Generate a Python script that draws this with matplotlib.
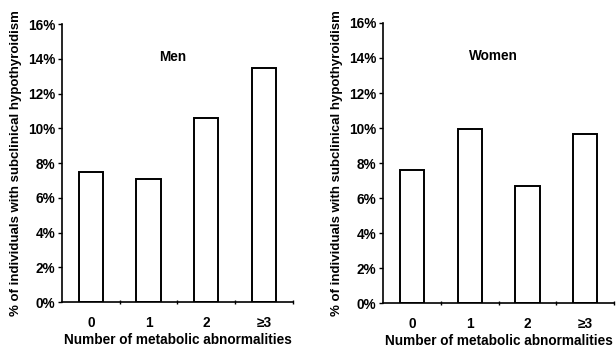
import matplotlib.pyplot as plt
from matplotlib.ticker import FuncFormatter

plt.rcParams['font.family'] = ['Liberation Sans', 'DejaVu Sans']
plt.rcParams['font.weight'] = 'bold'

# Data
categories = ["0", "1", "2", "\u22653"]
men = [7.5, 7.1, 10.6, 13.45]
women = [7.6, 9.95, 6.7, 9.65]

fig = plt.figure(figsize=(6.16, 3.48), dpi=100)

panels = [
    ([0.1006, 0.132, 0.375, 0.799], men, "Men"),
    ([0.6218, 0.129, 0.375, 0.805], women, "Women"),
]

fs = 9.8
for rect, values, title in panels:
    ax = fig.add_axes(rect)
    x = range(len(categories))
    ax.bar(x, values, width=0.42, color="white", edgecolor="black", linewidth=1.4)
    ax.set_xlim(-0.5, 3.5)
    ax.set_ylim(0, 16)
    ax.set_yticks(range(0, 17, 2))
    ax.yaxis.set_major_formatter(FuncFormatter(lambda v, p: f"{int(v)}%"))
    ax.set_xticks(list(x))
    ax.set_xticklabels(categories)
    ax.set_xticks([0.5, 1.5, 2.5, 3.5], minor=True)
    ax.tick_params(axis="x", which="major", length=0, pad=10, labelsize=fs)
    ax.tick_params(axis="x", which="minor", length=3, direction="inout", width=1)
    ax.tick_params(axis="y", length=3, width=1, labelsize=fs, pad=2)
    for s in ["top", "right"]:
        ax.spines[s].set_visible(False)
    for s in ["left", "bottom"]:
        ax.spines[s].set_linewidth(1.2)
    ax.text(1.42, 14.1, title, ha="center", va="center", fontsize=fs, fontweight="bold")
    ax.set_xlabel("Number of metabolic abnormalities", fontsize=fs, fontweight="bold", labelpad=2)
    ax.set_ylabel("% of individuals with subclinical hypothyroidism", fontsize=9.5,
                  fontweight="bold", labelpad=4)

fig.savefig("out.png", dpi=100)
